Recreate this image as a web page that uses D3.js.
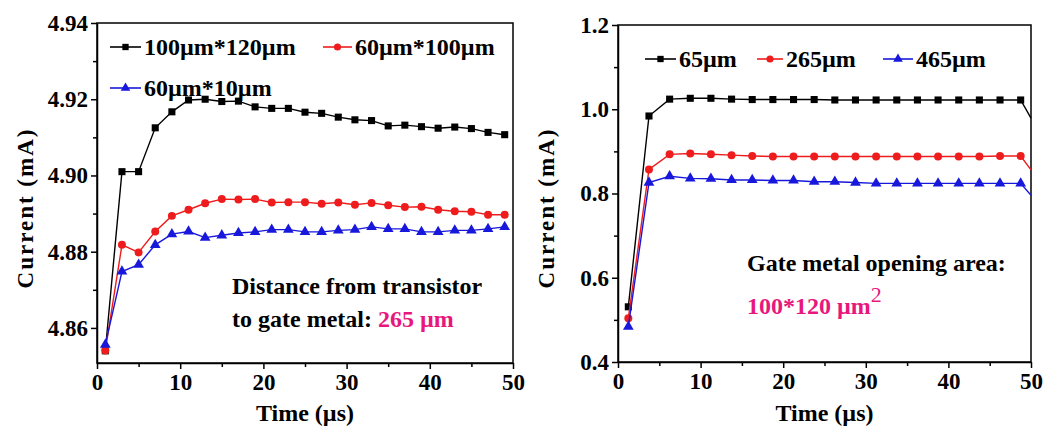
<!DOCTYPE html>
<html>
<head>
<meta charset="utf-8">
<title>Current vs time</title>
<script src="https://d3js.org/d3.v7.min.js"></script>
<style>
  body { margin: 0; background: #fff; }
</style>
</head>
<body>
<svg id="chart" width="1043" height="432"></svg>
<script>
// ---- data ----
var leftTime = [1, 3, 5, 7, 9, 11, 13, 15, 17, 19, 21, 23, 25, 27, 29, 31, 33, 35, 37, 39, 41, 43, 45, 47, 49];
var leftBlack = [4.854, 4.901, 4.901, 4.9125, 4.9167, 4.9198, 4.920, 4.9194, 4.9195, 4.918, 4.9176, 4.9176, 4.9166,
                 4.9163, 4.9153, 4.9146, 4.9144, 4.913, 4.9132, 4.9128, 4.9124, 4.9127, 4.9123, 4.9113, 4.9107];
var leftRed = [4.8541, 4.8818, 4.8798, 4.8853, 4.8894, 4.891, 4.8927, 4.8938, 4.8937, 4.8938, 4.8929, 4.893, 4.893,
               4.8926, 4.8929, 4.8923, 4.8928, 4.8922, 4.8917, 4.8918, 4.891, 4.8906, 4.8905, 4.8897, 4.8897];
var leftBlue = [4.8556, 4.8748, 4.8766, 4.8818, 4.8846, 4.8853, 4.8837, 4.8843, 4.8849, 4.8852, 4.8858, 4.8858, 4.8852,
                4.8852, 4.8856, 4.8858, 4.8865, 4.886, 4.886, 4.8852, 4.8852, 4.8856, 4.8856, 4.886, 4.8865];
var leftNames = ["100\u00b5m*120\u00b5m", "60\u00b5m*100\u00b5m", "60\u00b5m*10\u00b5m"];
var leftYTicks = [4.86, 4.88, 4.90, 4.92, 4.94];

var rightTime = [1.25, 3.75, 6.25, 8.75, 11.25, 13.75, 16.25, 18.75, 21.25, 23.75, 26.25, 28.75, 31.25, 33.75,
                 36.25, 38.75, 41.25, 43.75, 46.25, 48.75, 50];
var rightBlack = [0.531, 0.984, 1.024, 1.026, 1.026, 1.024, 1.023, 1.023, 1.023, 1.023, 1.022, 1.022, 1.022, 1.022,
                  1.022, 1.022, 1.022, 1.022, 1.022, 1.022, 0.979];
var rightRed = [0.504, 0.857, 0.893, 0.895, 0.893, 0.891, 0.889, 0.888, 0.888, 0.888, 0.888, 0.888, 0.888, 0.888,
                0.888, 0.888, 0.888, 0.888, 0.889, 0.889, 0.856];
var rightBlue = [0.484, 0.826, 0.841, 0.836, 0.835, 0.832, 0.832, 0.831, 0.831, 0.828, 0.828, 0.826, 0.824, 0.824,
                 0.824, 0.824, 0.824, 0.824, 0.824, 0.824, 0.796];
var rightNames = ["65\u00b5m", "265\u00b5m", "465\u00b5m"];
var rightYTicks = [0.4, 0.6, 0.8, 1.0, 1.2];

var xTicks = [0, 10, 20, 30, 40, 50];
var xMinor = [5, 15, 25, 35, 45];

var colors = ["#000000", "#ee1c1c", "#1818dc"];
var symbols = [d3.symbolSquare, d3.symbolCircle, d3.symbolTriangle];
var magenta = "#e8177d";
var serif = "Liberation Serif";

var svg = d3.select("#chart");

function txt(sel, size) {
  return sel.attr("font-family", serif).attr("font-weight", "bold").attr("font-size", size);
}

function drawPanel(p) {
  var x = d3.scaleLinear().domain([0, 50]).range([p.left, p.right]);
  var y = d3.scaleLinear().domain(p.yDomain).range([p.bottom, p.top]);
  var g = svg.append("g");

  // minor ticks
  g.append("g").attr("transform", "translate(0," + p.bottom + ")")
    .call(d3.axisBottom(x).tickValues(xMinor).tickSize(4).tickFormat(""))
    .call(function(a) { a.select(".domain").remove(); });
  g.append("g").attr("transform", "translate(" + p.left + ",0)")
    .call(d3.axisLeft(y).tickValues(p.yMinor).tickSize(4).tickFormat(""))
    .call(function(a) { a.select(".domain").remove(); });

  // major axes
  var xa = g.append("g").attr("transform", "translate(0," + p.bottom + ")")
    .call(d3.axisBottom(x).tickValues(xTicks).tickSize(6).tickSizeOuter(0).tickPadding(5));
  var ya = g.append("g").attr("transform", "translate(" + p.left + ",0)")
    .call(d3.axisLeft(y).tickValues(p.yTicks).tickSize(6).tickSizeOuter(0).tickPadding(3)
      .tickFormat(d3.format(p.yFormat)));
  [xa, ya].forEach(function(a) {
    a.attr("font-family", null).attr("font-size", null);
    txt(a.selectAll("text"), "23px").attr("fill", "#000");
    a.select(".domain").attr("stroke-width", 1.5);
  });
  g.selectAll(".tick line").attr("stroke-width", 1.5);

  // frame
  g.append("rect")
    .attr("x", p.left).attr("y", p.top)
    .attr("width", p.right - p.left).attr("height", p.bottom - p.top)
    .attr("fill", "none").attr("stroke", "#000").attr("stroke-width", 1.5);

  // series
  var line = d3.line().x(function(d) { return x(d[0]); }).y(function(d) { return y(d[1]); });
  p.series.forEach(function(vals, i) {
    var pts = p.time.map(function(t, j) { return [t, vals[j]]; });
    g.append("path").datum(pts)
      .attr("fill", "none").attr("stroke", colors[i]).attr("stroke-width", 1.4)
      .attr("d", line);
    var marked = p.noTailMarker ? pts.slice(0, pts.length - 1) : pts;
    g.selectAll(null).data(marked).enter().append("path")
      .attr("transform", function(d) { return "translate(" + x(d[0]) + "," + y(d[1]) + ")"; })
      .attr("d", d3.symbol().type(symbols[i]).size(50))
      .attr("fill", colors[i]);
  });

  // legend
  p.legend.forEach(function(l, i) {
    var lg = g.append("g");
    lg.append("line").attr("x1", l[0]).attr("x2", l[1]).attr("y1", l[2]).attr("y2", l[2])
      .attr("stroke", colors[i]).attr("stroke-width", 1.6);
    lg.append("path").attr("transform", "translate(" + ((l[0] + l[1]) / 2) + "," + l[2] + ")")
      .attr("d", d3.symbol().type(symbols[i]).size(40)).attr("fill", colors[i]);
    txt(lg.append("text"), "24px").attr("x", l[1] + 3).attr("y", l[2] + 8).text(p.names[i]);
  });

  // axis titles
  txt(g.append("text"), "24px").attr("x", (p.left + p.right) / 2).attr("y", 421)
    .attr("text-anchor", "middle").text("Time (\u00b5s)");
  txt(g.append("text"), "23px")
    .attr("transform", "translate(" + (p.left - 64) + ",208) rotate(-90)")
    .attr("text-anchor", "middle").attr("letter-spacing", "2px")
    .text("Current (mA)");
  return g;
}

var gl = drawPanel({
  left: 97, right: 513, top: 23, bottom: 363,
  yDomain: [4.8508, 4.94], yTicks: leftYTicks, yMinor: [4.87, 4.89, 4.91, 4.93], yFormat: ".2f",
  time: leftTime, series: [leftBlack, leftRed, leftBlue], names: leftNames,
  legend: [[110, 141, 47], [323, 352, 47], [110, 141, 88]]
});

var gr = drawPanel({
  left: 618, right: 1031, top: 25, bottom: 362,
  yDomain: [0.4, 1.2], yTicks: rightYTicks, yMinor: [0.5, 0.7, 0.9, 1.1], yFormat: ".1f",
  time: rightTime, series: [rightBlack, rightRed, rightBlue], names: rightNames, noTailMarker: true,
  legend: [[645, 676, 59], [757, 783, 59], [883, 913, 59]]
});

// annotations
txt(gl.append("text"), "24px").attr("x", 232).attr("y", 294).text("Distance from transistor");
var t2 = txt(gl.append("text"), "24px").attr("x", 232).attr("y", 327);
t2.append("tspan").text("to gate metal: ");
t2.append("tspan").attr("fill", magenta).text("265 \u00b5m");

txt(gr.append("text"), "24px").attr("x", 747).attr("y", 271).text("Gate metal opening area:");
var t3 = txt(gr.append("text"), "24px").attr("x", 747).attr("y", 314).attr("fill", magenta);
t3.append("tspan").text("100*120 \u00b5m");
t3.append("tspan").attr("dy", -12).attr("font-size", "22px").attr("font-weight", "normal").text("2");
</script>
</body>
</html>
